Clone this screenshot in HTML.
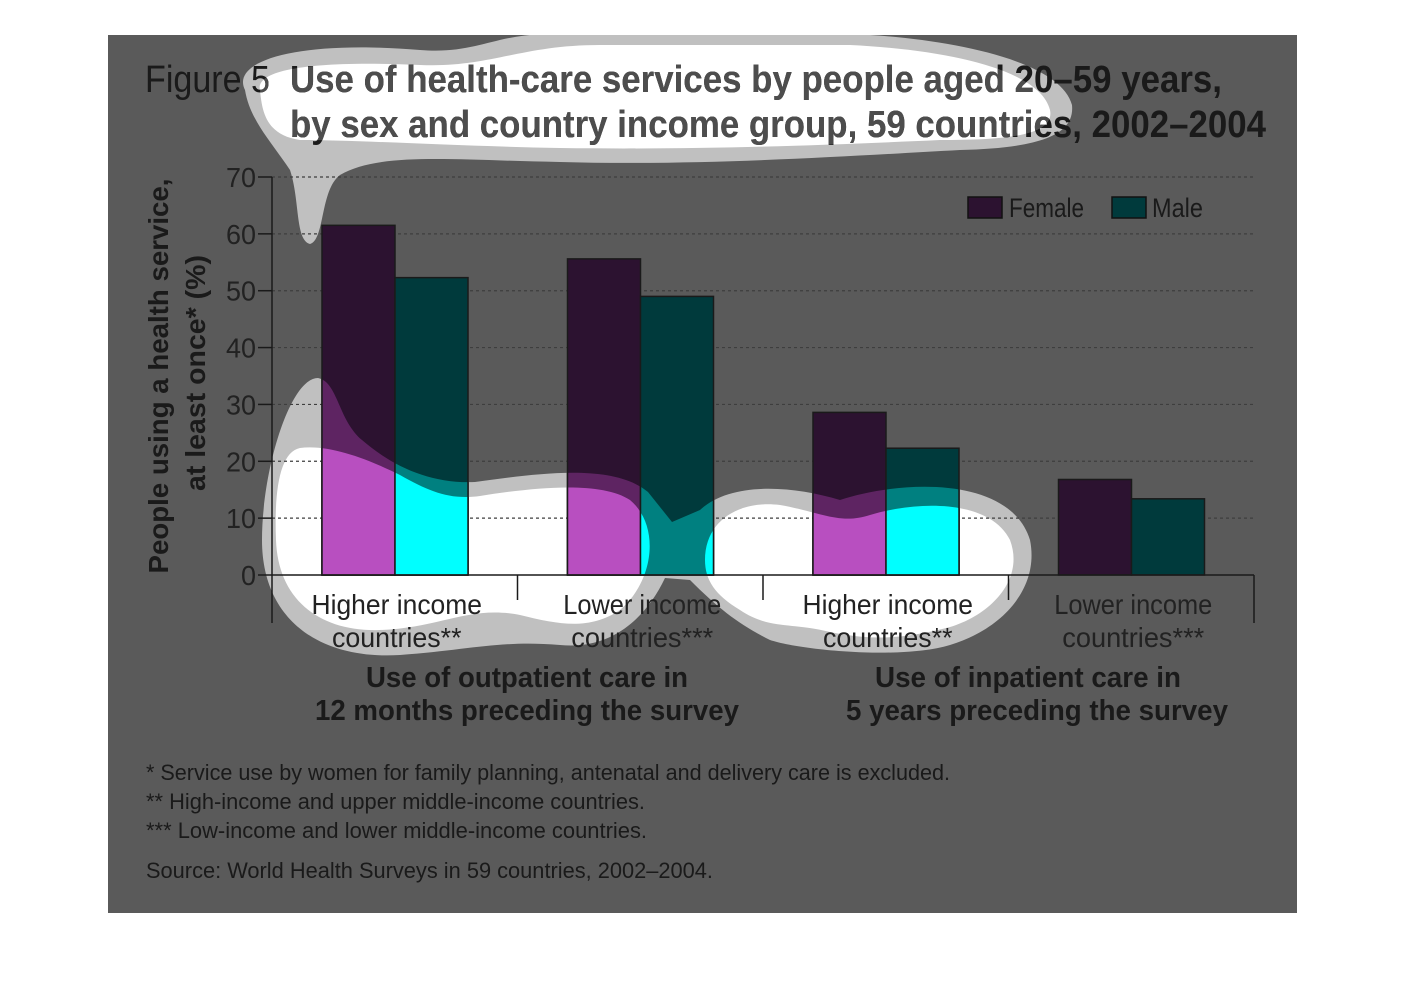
<!DOCTYPE html>
<html><head><meta charset="utf-8"><style>
html,body{margin:0;padding:0;background:#fff}
svg{display:block}
text{font-family:"Liberation Sans Narrow","Liberation Sans",sans-serif}
</style></head><body>
<svg id="chart" width="1406" height="1008" viewBox="0 0 1406 1008" xmlns="http://www.w3.org/2000/svg">
<defs>
<mask id="haloMask" maskUnits="userSpaceOnUse" x="0" y="0" width="1406" height="1008">
 <g fill="#fff">
 <path d="M 245 90 C 230 60, 300 40, 420 50 C 480 55, 500 30, 560 35 L 870 35 C 950 40, 1060 60, 1072 105 C 1075 135, 1040 148, 960 150 C 850 156, 700 166, 560 162 C 450 160, 380 152, 340 175 C 320 190, 325 240, 310 244 C 295 240, 300 200, 290 170 C 270 140, 250 120, 245 90 Z"/>
 <path d="M 318 378 C 338 382, 338 420, 362 440 C 392 466, 430 484, 475 482 C 535 474, 612 462, 648 492 L 672 522 L 700 510 C 730 482, 790 485, 840 500 C 900 480, 1010 475, 1030 540 C 1040 590, 1000 630, 950 645 C 900 660, 800 650, 770 640 C 740 625, 720 610, 690 580 L 665 578 C 645 620, 610 650, 560 645 C 500 640, 470 650, 400 655 C 320 660, 262 620, 262 540 C 262 470, 290 378, 318 378 Z"/>
 </g>
</mask>
<mask id="whiteMask" maskUnits="userSpaceOnUse" x="0" y="0" width="1406" height="1008">
 <g fill="#fff">
 <path d="M 260 90 C 255 70, 310 60, 420 65 C 490 68, 520 45, 600 45 L 850 45 C 950 50, 1040 70, 1050 110 C 1055 135, 1010 140, 940 140 C 830 145, 700 150, 560 148 C 450 146, 360 140, 300 140 C 265 135, 262 110, 260 90 Z"/>
 <path d="M 300 448 C 330 444, 370 460, 400 475 C 430 492, 450 500, 480 496 C 530 488, 600 480, 630 500 C 660 525, 655 580, 620 610 C 590 630, 560 625, 520 615 C 470 605, 440 628, 380 630 C 320 632, 278 600, 276 540 C 274 490, 280 452, 300 448 Z"/>
 <path d="M 705 560 C 705 520, 740 500, 780 505 C 820 512, 840 525, 870 515 C 920 500, 990 500, 1010 540 C 1025 580, 990 615, 950 627 C 900 640, 870 640, 830 632 C 790 622, 770 630, 740 610 C 715 595, 705 580, 705 560 Z"/>
 </g>
</mask>
</defs>
<rect x="108" y="35" width="1189" height="878" fill="#5a5a5a"/>
<rect x="0" y="0" width="1406" height="1008" fill="#c0c0c0" mask="url(#haloMask)"/>
<rect x="0" y="0" width="1406" height="1008" fill="#ffffff" mask="url(#whiteMask)"/>
<rect x="108" y="0" width="1189" height="35" fill="#fff"/>

<g fill="#1a1a1a">
 <text x="145" y="92" font-size="38" textLength="125" lengthAdjust="spacingAndGlyphs">Figure 5</text>
 <text x="290" y="92" font-size="38" font-weight="bold" textLength="932" lengthAdjust="spacingAndGlyphs">Use of health-care services by people aged 20–59 years,</text>
 <text x="290" y="137" font-size="38" font-weight="bold" textLength="976" lengthAdjust="spacingAndGlyphs">by sex and country income group, 59 countries, 2002–2004</text>
</g>
<g fill="#4d4d4d" mask="url(#whiteMask)">
 <text x="145" y="92" font-size="38" textLength="125" lengthAdjust="spacingAndGlyphs">Figure 5</text>
 <text x="290" y="92" font-size="38" font-weight="bold" textLength="932" lengthAdjust="spacingAndGlyphs">Use of health-care services by people aged 20–59 years,</text>
 <text x="290" y="137" font-size="38" font-weight="bold" textLength="976" lengthAdjust="spacingAndGlyphs">by sex and country income group, 59 countries, 2002–2004</text>
</g>

<g id="grid"></g>
<g id="bars"></g>
<g id="barsHalo" mask="url(#haloMask)"></g>
<g id="barsBright" mask="url(#whiteMask)"></g>
<g id="axes"></g>

<g fill="#1a1a1a" font-weight="bold" font-size="28">
 <text transform="translate(168,376) rotate(-90)" text-anchor="middle" textLength="395" lengthAdjust="spacingAndGlyphs">People using a health service,</text>
 <text transform="translate(205,373) rotate(-90)" text-anchor="middle" textLength="236" lengthAdjust="spacingAndGlyphs">at least once* (%)</text>
</g>

<g>
 <rect x="968" y="197" width="34" height="21" fill="#2c1230" stroke="#111" stroke-width="1.5"/>
 <text x="1009" y="217" font-size="27" fill="#1a1a1a" textLength="75" lengthAdjust="spacingAndGlyphs">Female</text>
 <rect x="1112" y="197" width="34" height="21" fill="#003a3c" stroke="#111" stroke-width="1.5"/>
 <text x="1152" y="217" font-size="27" fill="#1a1a1a" textLength="51" lengthAdjust="spacingAndGlyphs">Male</text>
</g>

<g fill="#1a1a1a" font-weight="bold" font-size="29" text-anchor="middle">
 <text x="527" y="687" textLength="322" lengthAdjust="spacingAndGlyphs">Use of outpatient care in</text>
 <text x="527" y="720" textLength="424" lengthAdjust="spacingAndGlyphs">12 months preceding the survey</text>
 <text x="1028" y="687" textLength="306" lengthAdjust="spacingAndGlyphs">Use of inpatient care in</text>
 <text x="1037" y="720" textLength="382" lengthAdjust="spacingAndGlyphs">5 years preceding the survey</text>
</g>

<g fill="#1a1a1a" font-size="22">
 <text x="146" y="780" textLength="804" lengthAdjust="spacingAndGlyphs">* Service use by women for family planning, antenatal and delivery care is excluded.</text>
 <text x="146" y="809" textLength="499" lengthAdjust="spacingAndGlyphs">** High-income and upper middle-income countries.</text>
 <text x="146" y="838" textLength="501" lengthAdjust="spacingAndGlyphs">*** Low-income and lower middle-income countries.</text>
 <text x="146" y="878" textLength="567" lengthAdjust="spacingAndGlyphs">Source: World Health Surveys in 59 countries, 2002–2004.</text>
</g>
</svg>
<script>
const categories = ["Higher income|countries**","Lower income|countries***","Higher income|countries**","Lower income|countries***"];
const femaleValues = [61.5, 55.6, 28.6, 16.8];
const maleValues = [52.3, 49.0, 22.3, 13.4];
const yTicks = [0,10,20,30,40,50,60,70];

const NS = "http://www.w3.org/2000/svg";
const x0 = 272, x1 = 1254, yBase = 575, yTop = 177, yMax = 70;
const groupW = (x1 - x0) / categories.length;
const barW = 73, barOff = 50;
function yScale(v){ return yBase - (v / yMax) * (yBase - yTop); }
function xGroup(i){ return x0 + i * groupW; }
function mk(tag, attrs, parent){ const e = document.createElementNS(NS, tag); for (const k in attrs) e.setAttribute(k, attrs[k]); parent.appendChild(e); return e; }
function labelWidth(s){ return s.length * 12.5 + (s.indexOf('*') >= 0 ? -8 : 8); }

const grid = document.getElementById('grid');
const axes = document.getElementById('axes');
yTicks.forEach(t => {
  const y = yScale(t);
  if (t > 0) {
    const g = mk('line', {x1:x0, x2:x1, y1:y, y2:y, stroke:'#3e3e3e', 'stroke-width':1.2, 'stroke-dasharray':'3 3'}, grid);
    
    
  }
  const tk = mk('line', {x1:x0-14, x2:x0, y1:y, y2:y, stroke:'#1a1a1a', 'stroke-width':1.5}, axes);
  
  
  const lb = mk('text', {x:x0-16, y:y+10, 'text-anchor':'end', 'font-size':28, fill:'#222', textLength: String(t).length*15, lengthAdjust:'spacingAndGlyphs'}, axes);
  lb.textContent = t;
  
  
});

const bars = document.getElementById('bars');
const barsHalo = document.getElementById('barsHalo');
const barsBright = document.getElementById('barsBright');
const layers = [[bars, '#2c1230', '#003a3c'], [barsHalo, '#5e2462', '#008080'], [barsBright, '#b84fc0', '#00ffff']];
categories.forEach((c, i) => {
  const gx = xGroup(i);
  layers.forEach(([layer, fc, mc], li) => {
    const fy = yScale(femaleValues[i]), my = yScale(maleValues[i]);
    const f = mk('rect', {x:gx+barOff, y:fy, width:barW, height:yBase-fy, fill:fc, stroke:'#1a1a1a', 'stroke-width':1.5}, layer);
    
    
    const m = mk('rect', {x:gx+barOff+barW, y:my, width:barW, height:yBase-my, fill:mc, stroke:'#1a1a1a', 'stroke-width':1.5}, layer);
    
    
  });
  const parts = c.split('|');
  const cx = gx + groupW / 2 + 2;
  parts.forEach((p, k) => {
    const t = mk('text', {x:cx, y:614 + k*33, 'text-anchor':'middle', 'font-size':28, fill:'#222', textLength: labelWidth(p), lengthAdjust:'spacingAndGlyphs'}, axes);
    t.textContent = p;
    
    
  });
  if (i > 0) {
    const s = mk('line', {x1:gx, x2:gx, y1:yBase, y2:600, stroke:'#1a1a1a', 'stroke-width':1.5}, axes);
    
    
  }
});
const ya = mk('line', {x1:x0, x2:x0, y1:yTop, y2:623, stroke:'#1a1a1a', 'stroke-width':1.5}, axes);


const xa = mk('line', {x1:x0, x2:x1, y1:yBase, y2:yBase, stroke:'#1a1a1a', 'stroke-width':1.5}, axes);


const re = mk('line', {x1:x1, x2:x1, y1:yBase, y2:623, stroke:'#1a1a1a', 'stroke-width':1.5}, axes);


</script>
</body></html>
